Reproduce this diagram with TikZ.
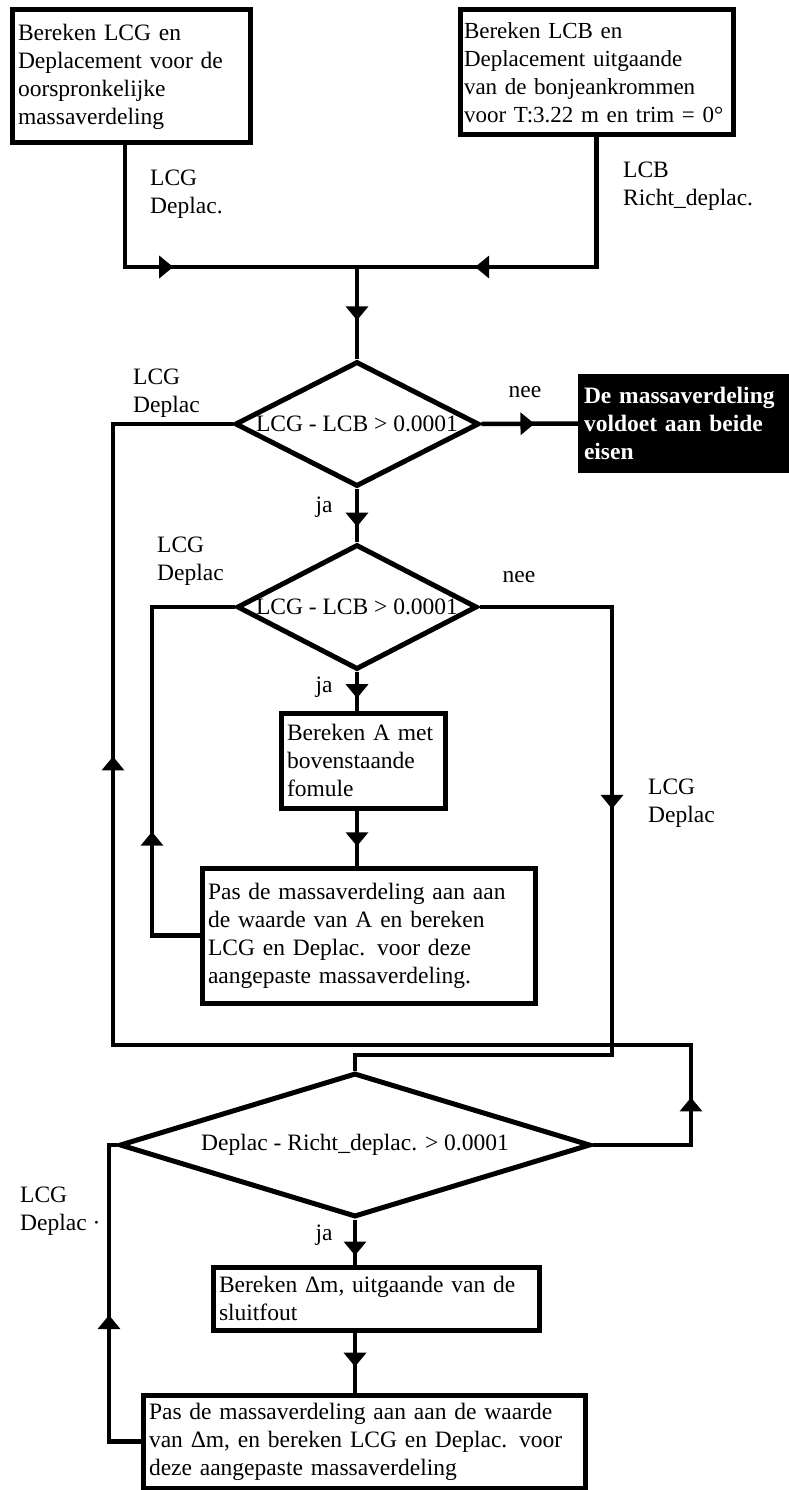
\documentclass[tikz,border=0pt]{standalone}
\usepackage{fontspec}
\setmainfont{Liberation Serif}
\usetikzlibrary{positioning,arrows.meta,shapes.geometric,decorations.markings}
\newcommand{\flowfont}{\fontsize{23.5}{28}\selectfont}
\tikzset{
  flowline/.style={line width=4.5pt},
  midarrow/.style={postaction={decorate, decoration={markings, mark=at position #1 with {\arrow{Triangle[length=14pt, width=22pt]}}}}},
  procbox/.style={draw, line width=5pt, fill=white, align=left, inner xsep=6pt, inner ysep=0pt, font=\flowfont},
  decision/.style={draw, diamond, line width=5pt, inner sep=0pt},
  endbox/.style={fill=black, text=white, align=left, inner xsep=6pt, inner ysep=0pt, font=\flowfont\bfseries},
  flowlabel/.style={font=\flowfont, align=left, inner sep=0pt}
}
\begin{document}
\begin{tikzpicture}[x=1pt, y=-1pt]
  \useasboundingbox (0,0) rectangle (789,1490);
  \node[procbox, text width=226pt, minimum height=133pt] (calcg) at (131,76.5) {Bereken LCG en\\Deplacement voor de\\oorspronkelijke\\massaverdeling};
  \node[procbox, inner xsep=4pt, text width=265pt, minimum height=125pt, font=\fontsize{23}{28}\selectfont] (calcb) at (596.5,72.5) {Bereken LCB en\\Deplacement uitgaande\\van de bonjeankrommen\\voor T:3.22 m en trim = 0°};
  \coordinate (join) at (357,267);
  \node[decision, minimum width=244pt, minimum height=125pt] (d1) at (357,424) {};
  \node[font=\flowfont] (d1t) at (d1) {LCG - LCB > 0.0001};
  \node[endbox, text width=199pt, minimum height=99pt] (done) at (683.5,423.5) {De massaverdeling\\voldoet aan beide\\eisen};
  \node[decision, minimum width=240pt, minimum height=125pt] (d2) at (357,607) {};
  \node[font=\flowfont] (d2t) at (d2) {LCG - LCB > 0.0001};
  \node[procbox, text width=152pt, minimum height=95pt] (calcA) at (363,760.5) {Bereken A met\\bovenstaande\\fomule};
  \node[procbox, text width=321pt, minimum height=135pt] (adjA) at (368.5,935.5) {Pas de massaverdeling aan aan\\de waarde van A en bereken\\LCG en Deplac. voor deze\\aangepaste massaverdeling.};
  \node[decision, minimum width=471pt, minimum height=144pt] (d3) at (355,1145) {};
  \node[font=\flowfont] (d3t) at (d3) {Deplac - Richt\_deplac. > 0.0001};
  \node[procbox, text width=314pt, minimum height=63pt] (calcm) at (376,1298.5) {Bereken Δm, uitgaande van de\\sluitfout};
  \node[procbox, text width=430pt, minimum height=93pt] (adjm) at (364,1441.5) {Pas de massaverdeling aan aan de waarde\\van Δm, en bereken LCG en Deplac. voor\\deze aangepaste massaverdeling};

  \coordinate (loopA) at (152,607);
  \coordinate (loopB) at (612,1055);
  \coordinate (loopR) at (691,1045);
  \coordinate (loopL) at (113,424);
  \coordinate (loopC) at (109,1145);

  \draw[flowline, midarrow=0.48] ([xshift=-6pt]calcg.south) |- (join);
  \draw[flowline, midarrow=0.68] (calcb.south) |- (join);
  \draw[flowline, midarrow=0.58] (join) -- (d1.north);
  \draw[flowline, midarrow=0.55] (d1.east) -- (done.west);
  \draw[flowline, midarrow=0.71] (d1.south) -- (d2.north);
  \draw[flowline, midarrow=0.68] (d2.south) -- (d2.south |- calcA.north);
  \draw[flowline, midarrow=0.65] (calcA.south -| d2.south) -- (adjA.north -| d2.south);
  \draw[flowline, midarrow=0.33] (adjA.west) -| (loopA) -- (d2.west);
  \draw[flowline, midarrow=0.392] (d2.east) -| (loopB) -| (d3.north);
  \draw[flowline, midarrow=0.096, midarrow=0.702] (d3.east) -| (loopR) -| (loopL) -- (d1.west);
  \draw[flowline, midarrow=0.8] (d3.south) -- (d3.south |- calcm.north);
  \draw[flowline, midarrow=0.57] (calcm.south -| d3.south) -- (adjm.north -| d3.south);
  \draw[flowline, midarrow=0.47] (adjm.west) -| (loopC) -- (d3.west);

  \node[flowlabel, anchor=west] (lblg) at (150,194) {LCG\\Deplac.};
  \node[flowlabel, anchor=west] (lblb) at (623,186) {LCB\\Richt\_deplac.};
  \node[flowlabel, anchor=west] (lbl1) at (133,393) {LCG\\Deplac};
  \node[flowlabel, anchor=west] (lbl2) at (157,561) {LCG\\Deplac};
  \node[flowlabel, anchor=west] (lbl3) at (648,803) {LCG\\Deplac};
  \node[flowlabel, anchor=west] (lbl4) at (20,1211) {LCG\\Deplac ·};
  \node[flowlabel] (nee1) at (525,392) {nee};
  \node[flowlabel] (nee2) at (519,577) {nee};
  \node[flowlabel] (ja1) at (324,507) {ja};
  \node[flowlabel] (ja2) at (324,687) {ja};
  \node[flowlabel] (ja3) at (324,1235) {ja};
\end{tikzpicture}
\end{document}
